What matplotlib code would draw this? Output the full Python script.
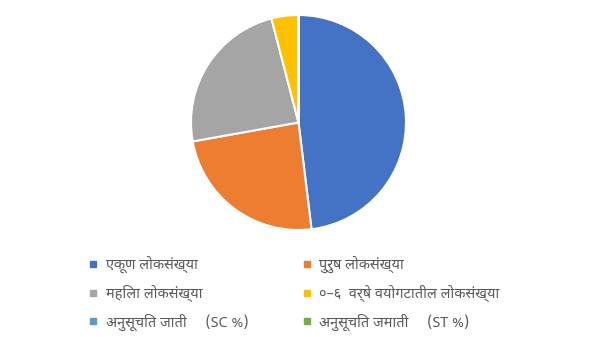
import matplotlib
matplotlib.use("Agg")
import matplotlib.pyplot as plt
from matplotlib.lines import Line2D

# श्रेणी व मूल्ये (चित्रावरून अंदाजे)
labels = [
    "एकूण लोकसंख्या",
    "पुरुष लोकसंख्या",
    "महिला लोकसंख्या",
    "०–६  वर्षे वयोगटातील लोकसंख्या",
    "अनुसूचित जाती     (SC %)",
    "अनुसूचित जमाती     (ST %)",
]
values = [2516, 1262, 1244, 212, 0, 0]
colors = ["#4472C4", "#ED7D31", "#A5A5A5", "#FFC000", "#5B9BD5", "#70AD47"]

plt.rcParams["font.family"] = ["Noto Sans Devanagari", "DejaVu Sans"]

W, H = 597, 337
fig = plt.figure(figsize=(W / 100, H / 100), dpi=100)

# pie axes: centre (298.5, 122.5) px, radius 107.5 px
r = 107.5
m = 1.03
cx, cy = 298.5, 122.5
ax = fig.add_axes([(cx - r * m) / W, (H - cy - r * m) / H, 2 * r * m / W, 2 * r * m / H])
wedges, _ = ax.pie(values, colors=colors, startangle=90, counterclock=False,
                   wedgeprops=dict(edgecolor="white", linewidth=1.5))
ax.set_xlim(-m, m)
ax.set_ylim(-m, m)
ax.set_aspect("equal")
ax.axis("off")

# legend, two columns filled row by row
handles = [Line2D([], [], marker="s", linestyle="none", markersize=4.5,
                  markerfacecolor=c, markeredgecolor=c) for c in colors]
order = [0, 2, 4, 1, 3, 5]
leg = fig.legend([handles[i] for i in order], [labels[i] for i in order],
                 ncol=2, loc="upper left", bbox_to_anchor=(89 / W, 1 - 256 / H),
                 frameon=False, fontsize=10.4, handlelength=0.6, handletextpad=0.55,
                 columnspacing=3.75, labelspacing=0.8, borderaxespad=0,
                 borderpad=0)
for t in leg.get_texts():
    t.set_color("#595959")

fig.savefig("out.png", dpi=100)
